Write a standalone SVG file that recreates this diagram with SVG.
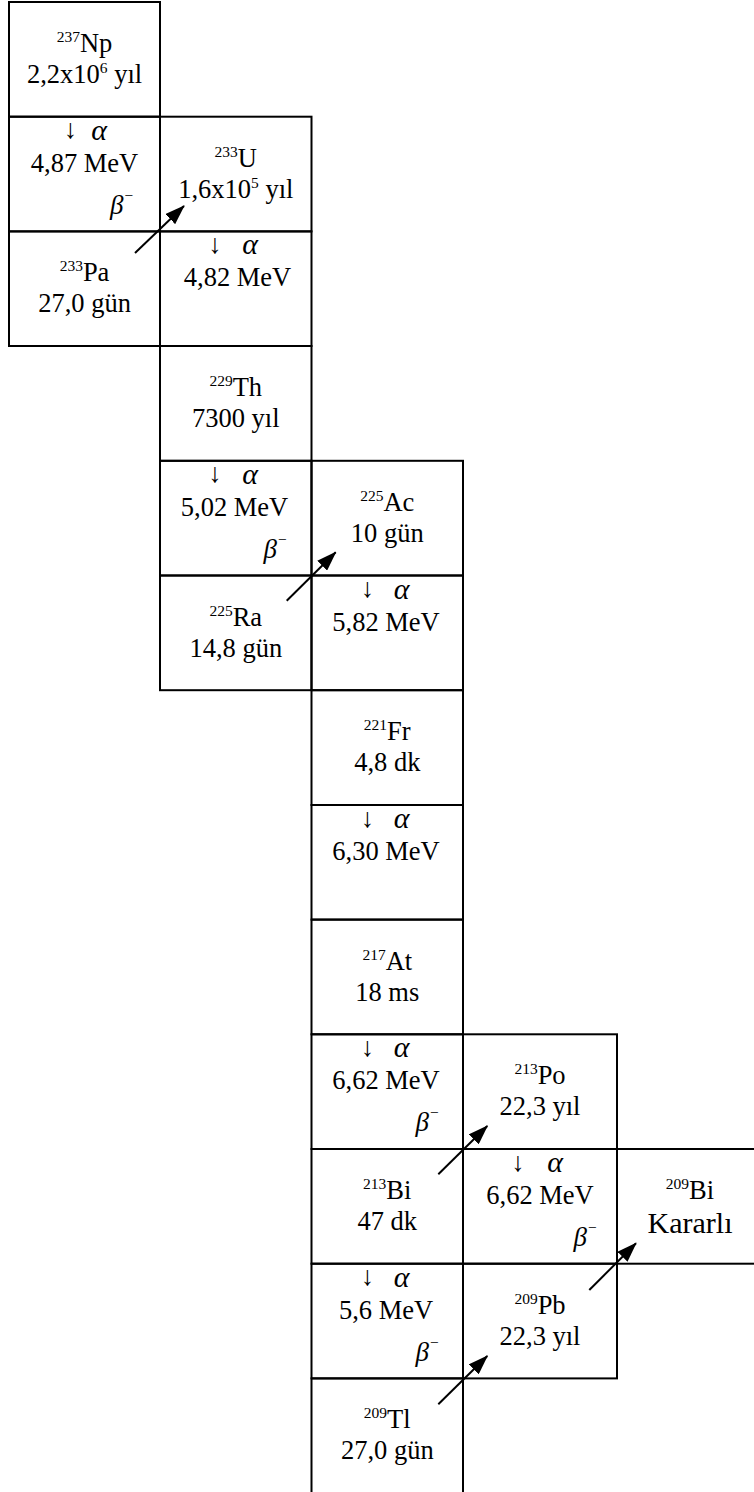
<svg xmlns="http://www.w3.org/2000/svg" width="754" height="1492" viewBox="0 0 754 1492">
<style>
.box{fill:none;stroke:#000;stroke-width:2}
.t,.s,.big,.g,.b,.ar{font-family:"Liberation Serif","Times New Roman","DejaVu Serif",serif;fill:#000}
.t{font-size:26.5px;text-anchor:middle}
.s{font-size:15.5px}
.big{font-size:30px;text-anchor:middle}
.ar{font-size:27px;text-anchor:middle}
.g{font-size:30px;font-style:italic;text-anchor:middle}
.b{font-size:27px;font-style:italic;text-anchor:end}
.conn line{stroke:#000;stroke-width:2;marker-end:url(#ah)}
</style>
<defs>
<marker id="ah" viewBox="0 0 20 14" refX="19" refY="7" markerWidth="20" markerHeight="14" orient="auto" markerUnits="userSpaceOnUse"><path d="M0,0 L20,7 L0,14 z" fill="#000"/></marker>
</defs>
<rect width="754" height="1492" fill="#fff"/>

<g id="np"><rect class="box" x="9" y="2" width="151" height="114.7"/>
<text class="t" x="84.5" y="52"><tspan class="s" dy="-10">237</tspan><tspan dy="10">Np</tspan></text>
<text class="t" x="84.5" y="83">2,2x10<tspan class="s" dy="-10">6</tspan><tspan dy="10"> yıl</tspan></text></g>

<g id="alpha-np"><rect class="box" x="9" y="116.7" width="151" height="114.7"/>
<text class="ar" x="70.5" y="138.2">↓</text><text class="g" x="99" y="139.7">α</text>
<text class="t" x="84.5" y="171.7">4,87 MeV</text>
<text class="b" x="134" y="213.7">β<tspan class="s" dy="-13">−</tspan></text></g>

<g id="u233"><rect class="box" x="160" y="116.7" width="151.5" height="114.7"/>
<text class="t" x="235.75" y="166.7"><tspan class="s" dy="-10">233</tspan><tspan dy="10">U</tspan></text>
<text class="t" x="235.75" y="197.7">1,6x10<tspan class="s" dy="-10">5</tspan><tspan dy="10"> yıl</tspan></text></g>

<g id="pa233"><rect class="box" x="9" y="231.4" width="151" height="114.6"/>
<text class="t" x="84.5" y="281.4"><tspan class="s" dy="-10">233</tspan><tspan dy="10">Pa</tspan></text>
<text class="t" x="84.5" y="312.4">27,0 gün</text></g>

<g id="alpha-u"><rect class="box" x="160" y="231.4" width="151.5" height="114.6"/>
<text class="ar" x="215" y="252.9">↓</text><text class="g" x="250" y="254.4">α</text>
<text class="t" x="237.5" y="286.4">4,82 MeV</text></g>

<g id="th229"><rect class="box" x="160" y="346" width="151.5" height="114.8"/>
<text class="t" x="235.75" y="396"><tspan class="s" dy="-10">229</tspan><tspan dy="10">Th</tspan></text>
<text class="t" x="235.75" y="427">7300 yıl</text></g>

<g id="alpha-th"><rect class="box" x="160" y="460.8" width="151.5" height="114.7"/>
<text class="ar" x="215" y="482.3">↓</text><text class="g" x="250" y="483.8">α</text>
<text class="t" x="234.5" y="515.8">5,02 MeV</text>
<text class="b" x="287.5" y="557.8">β<tspan class="s" dy="-13">−</tspan></text></g>

<g id="ac225"><rect class="box" x="311.5" y="460.8" width="151.5" height="114.7"/>
<text class="t" x="387.25" y="510.8"><tspan class="s" dy="-10">225</tspan><tspan dy="10">Ac</tspan></text>
<text class="t" x="387.25" y="541.8">10 gün</text></g>

<g id="ra225"><rect class="box" x="160" y="575.5" width="151.5" height="114.7"/>
<text class="t" x="235.75" y="625.5"><tspan class="s" dy="-10">225</tspan><tspan dy="10">Ra</tspan></text>
<text class="t" x="235.75" y="656.5">14,8 gün</text></g>

<g id="alpha-ac"><rect class="box" x="311.5" y="575.5" width="151.5" height="114.7"/>
<text class="ar" x="367.5" y="597">↓</text><text class="g" x="401.5" y="598.5">α</text>
<text class="t" x="386" y="630.5">5,82 MeV</text></g>

<g id="fr221"><rect class="box" x="311.5" y="690.2" width="151.5" height="114.8"/>
<text class="t" x="387.25" y="740.2"><tspan class="s" dy="-10">221</tspan><tspan dy="10">Fr</tspan></text>
<text class="t" x="387.25" y="771.2">4,8 dk</text></g>

<g id="alpha-fr"><rect class="box" x="311.5" y="805" width="151.5" height="114.6"/>
<text class="ar" x="367.5" y="826.5">↓</text><text class="g" x="401.5" y="828">α</text>
<text class="t" x="386" y="860">6,30 MeV</text></g>

<g id="at217"><rect class="box" x="311.5" y="919.6" width="151.5" height="114.7"/>
<text class="t" x="387.25" y="969.6"><tspan class="s" dy="-10">217</tspan><tspan dy="10">At</tspan></text>
<text class="t" x="387.25" y="1000.6">18 ms</text></g>

<g id="alpha-at"><rect class="box" x="311.5" y="1034.3" width="151.5" height="114.7"/>
<text class="ar" x="367.5" y="1055.8">↓</text><text class="g" x="401.5" y="1057.3">α</text>
<text class="t" x="386" y="1089.3">6,62 MeV</text>
<text class="b" x="439.5" y="1131.3">β<tspan class="s" dy="-13">−</tspan></text></g>

<g id="po213"><rect class="box" x="463" y="1034.3" width="154" height="114.7"/>
<text class="t" x="540" y="1084.3"><tspan class="s" dy="-10">213</tspan><tspan dy="10">Po</tspan></text>
<text class="t" x="540" y="1115.3">22,3 yıl</text></g>

<g id="bi213"><rect class="box" x="311.5" y="1149" width="151.5" height="114.7"/>
<text class="t" x="387.25" y="1199"><tspan class="s" dy="-10">213</tspan><tspan dy="10">Bi</tspan></text>
<text class="t" x="387.25" y="1230">47 dk</text></g>

<g id="alpha-po"><rect class="box" x="463" y="1149" width="154" height="114.7"/>
<text class="ar" x="518" y="1170.5">↓</text><text class="g" x="555" y="1172">α</text>
<text class="t" x="540" y="1204">6,62 MeV</text>
<text class="b" x="597.5" y="1246">β<tspan class="s" dy="-13">−</tspan></text></g>

<g id="bi209"><rect class="box" x="617" y="1149" width="140" height="114.7"/>
<text class="t" x="690" y="1199"><tspan class="s" dy="-10">209</tspan><tspan dy="10">Bi</tspan></text>
<text class="big" x="690" y="1233">Kararlı</text></g>

<g id="alpha-bi"><rect class="box" x="311.5" y="1263.7" width="151.5" height="114.7"/>
<text class="ar" x="367.5" y="1285.2">↓</text><text class="g" x="401.5" y="1286.7">α</text>
<text class="t" x="386" y="1318.7">5,6 MeV</text>
<text class="b" x="439.5" y="1360.7">β<tspan class="s" dy="-13">−</tspan></text></g>

<g id="pb209"><rect class="box" x="463" y="1263.7" width="154" height="114.7"/>
<text class="t" x="540" y="1313.7"><tspan class="s" dy="-10">209</tspan><tspan dy="10">Pb</tspan></text>
<text class="t" x="540" y="1344.7">22,3 yıl</text></g>

<g id="tl209"><rect class="box" x="311.5" y="1378.4" width="151.5" height="120"/>
<text class="t" x="387.25" y="1428.4"><tspan class="s" dy="-10">209</tspan><tspan dy="10">Tl</tspan></text>
<text class="t" x="387.25" y="1459.4">27,0 gün</text></g>

<g id="connectors" class="conn">
<line x1="135" y1="253" x2="184" y2="206"/>
<line x1="286.7" y1="600.7" x2="335.7" y2="552.3"/>
<line x1="438.3" y1="1174.3" x2="487.3" y2="1126"/>
<line x1="589.3" y1="1290" x2="636" y2="1243.3"/>
<line x1="438.3" y1="1404.3" x2="487.3" y2="1356"/>
</g>
</svg>
